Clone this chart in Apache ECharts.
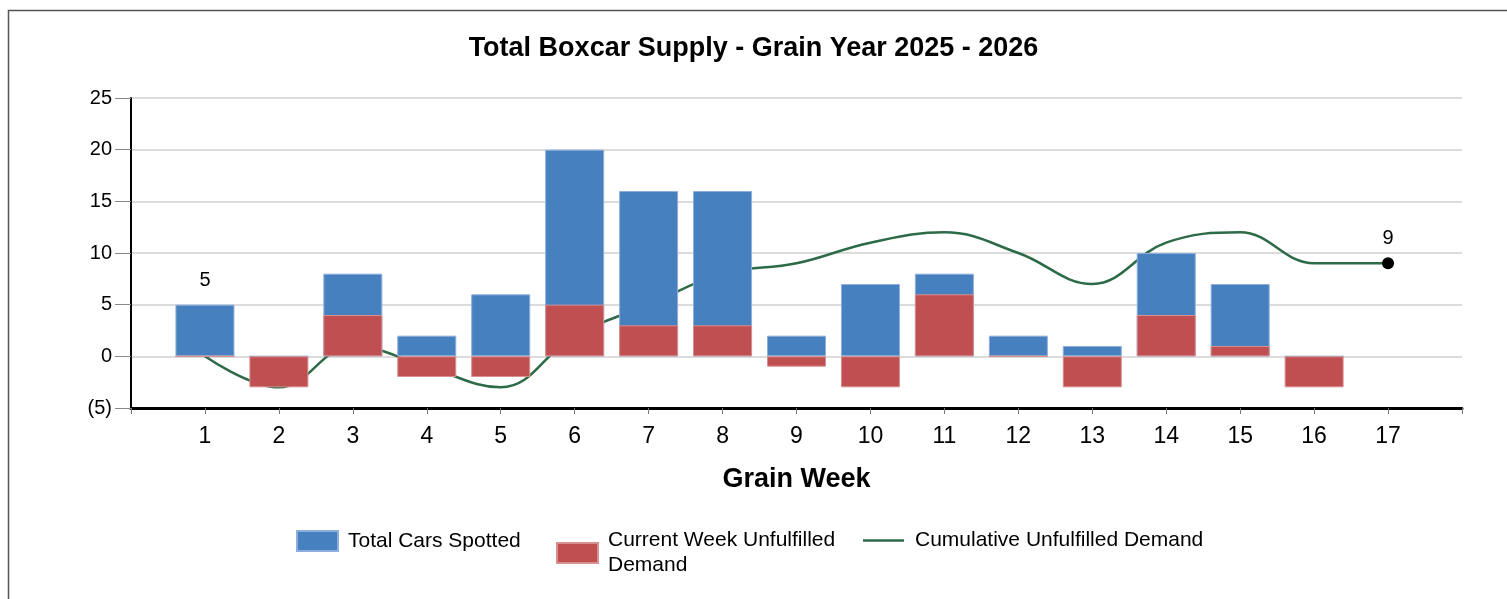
<!DOCTYPE html>
<html>
<head>
<meta charset="utf-8">
<script src="https://cdn.jsdelivr.net/npm/echarts@6/dist/echarts.min.js"></script>
<style>html,body{margin:0;padding:0;background:#fff;}#c{width:1507px;height:599px;}</style>
</head>
<body>
<div id="c"></div>
<script>
const weeks = [1,2,3,4,5,6,7,8,9,10,11,12,13,14,15,16,17];
const totalCarsSpotted = [5,0,8,2,6,20,16,16,2,7,8,2,1,10,7,0,null];
const currentWeekUnfulfilled = [0,-3,4,-2,-2,5,3,3,-1,-3,6,0,-3,4,1,-3,null];
const cumulativeUnfulfilled = [0,-3,1,-1,-3,2,5,8,9,11,12,10,7,11,12,9,9];
const yTicks = [-5,0,5,10,15,20,25];

const FONT = 'Liberation Sans, Arial, sans-serif';
const chart = echarts.init(document.getElementById('c'), null, {renderer:'canvas'});

const blueData = weeks.map((w,i)=> totalCarsSpotted[i]==null ? null : {
  value:[w,totalCarsSpotted[i]],
  label:{show:i===0}
}).filter(d=>d);
const redData = weeks.map((w,i)=> currentWeekUnfulfilled[i]==null ? null : [w,currentWeekUnfulfilled[i]]).filter(d=>d);
const lineData = weeks.map((w,i)=>{
  const last = i===weeks.length-1;
  return last ? {value:[w,cumulativeUnfulfilled[i]], symbol:'circle', symbolSize:12,
    itemStyle:{color:'#000'}, label:{show:true, position:'top', distance:9, color:'#000', fontSize:20, fontFamily:FONT}} :
    {value:[w,cumulativeUnfulfilled[i]], symbol:'none'};
});

const legendText = {fontFamily:FONT, fontSize:21, color:'#000', padding:[0,0,0,5]};

chart.setOption({
  animation:false,
  backgroundColor:'#fff',
  graphic:[{type:'rect', shape:{x:8.5,y:10.5,width:1520,height:620}, style:{fill:'none',stroke:'#555',lineWidth:1.5}, silent:true, z:-10}],
  title:{text:'Total Boxcar Supply - Grain Year 2025 - 2026', left:'center', top:30,
    textStyle:{fontFamily:FONT, fontSize:27, fontWeight:'bold', color:'#000'}},
  grid:{left:131, right:45, top:98, bottom:191, containLabel:false},
  xAxis:{type:'value', min:0, max:18, interval:1,
    name:'Grain Week', nameLocation:'middle', nameGap:58,
    nameTextStyle:{fontFamily:FONT, fontSize:27, fontWeight:'bold', color:'#000'},
    axisLine:{show:true, onZero:false, lineStyle:{color:'#000', width:3}},
    axisTick:{show:true, length:6, lineStyle:{color:'#777', width:1}},
    axisLabel:{fontFamily:FONT, fontSize:23, color:'#000', margin:17,
      formatter:v=> (v>=1 && v<=17) ? String(v) : ''},
    splitLine:{show:false}},
  yAxis:{type:'value', min:-5, max:25, interval:5,
    axisLine:{show:true, lineStyle:{color:'#000', width:2}},
    axisTick:{show:true, length:16, lineStyle:{color:'#888', width:1}},
    axisLabel:{fontFamily:FONT, fontSize:20, color:'#000', margin:19,
      formatter:v=> v<0 ? '('+Math.abs(v)+')' : String(v)},
    splitLine:{show:true, lineStyle:{color:'#dcdcdc', width:2}}},
  legend:[
    {data:[{name:'Total Cars Spotted', icon:'rect'}], left:296, top:530, padding:0, itemWidth:41, itemHeight:20,
      textStyle:legendText},
    {data:[{name:'Current Week Unfulfilled Demand', icon:'rect'}], left:556, top:528, padding:0, itemWidth:41, itemHeight:20,
      formatter:()=> 'Current Week Unfulfilled\nDemand',
      textStyle:Object.assign({}, legendText, {lineHeight:25})},
    {data:[{name:'Cumulative Unfulfilled Demand', icon:'path://M0 0 H40 V2.5 H0 Z'}], left:863, top:530, padding:0, itemWidth:41, itemHeight:20,
      textStyle:Object.assign({}, legendText, {padding:[0,0,0,6]})}
  ],
  series:[
    {name:'Total Cars Spotted', type:'bar', data:blueData, barWidth:59, barGap:'-100%', z:3,
      itemStyle:{color:'#4680bf', borderColor:'#8eaede', borderWidth:1},
      label:{position:'top', distance:14, color:'#000', fontSize:20, fontFamily:FONT}},
    {name:'Current Week Unfulfilled Demand', type:'bar', data:redData, barWidth:59, barGap:'-100%', z:4,
      itemStyle:{color:'#c04f51', borderColor:'#d88f90', borderWidth:1}},
    {name:'Cumulative Unfulfilled Demand', type:'line', data:lineData, smooth:0.4, z:1,
      symbol:'none',
      lineStyle:{color:'#2d6a47', width:2.5}, itemStyle:{color:'#2d6a47'}}
  ]
});
</script>
</body>
</html>
